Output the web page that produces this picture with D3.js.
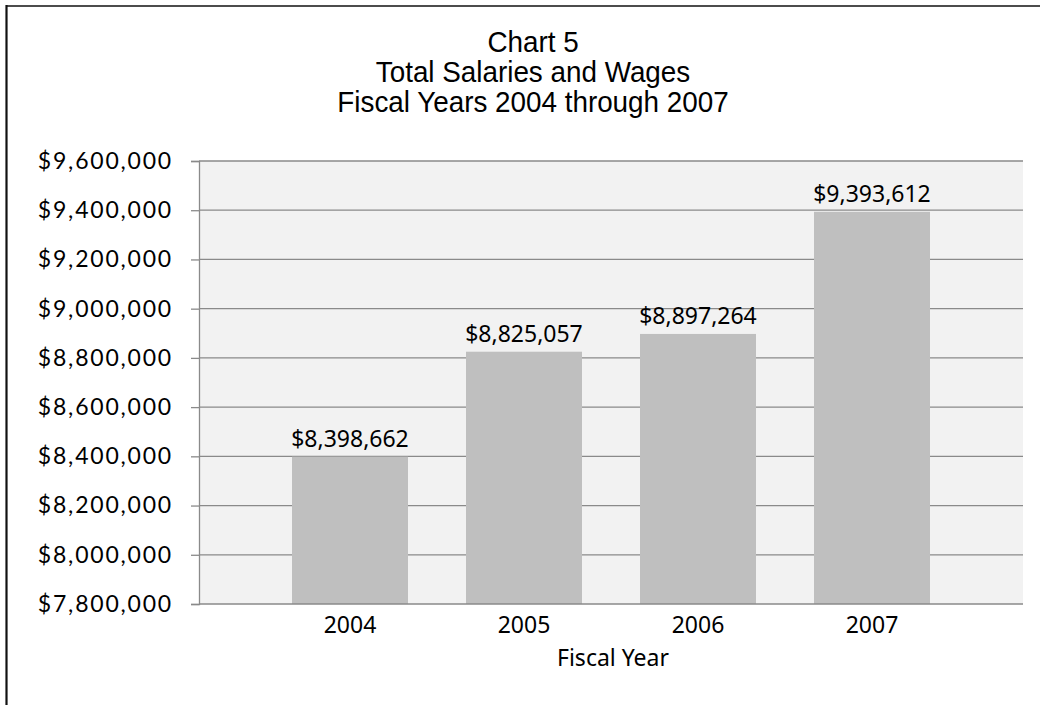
<!DOCTYPE html>
<html>
<head>
<meta charset="utf-8">
<script src="https://cdn.jsdelivr.net/npm/d3@7"></script>
<style>
  html, body { margin: 0; padding: 0; background: #fff; }
  svg { display: block; }
</style>
</head>
<body>
<svg id="chart" width="1040" height="705"></svg>
<script>
// Fiscal year totals for salaries and wages
const years = ["2004", "2005", "2006", "2007"];
const totals = [8398662, 8825057, 8897264, 9393612];
const yTicks = [7800000, 8000000, 8200000, 8400000, 8600000, 8800000, 9000000, 9200000, 9400000, 9600000];
const titleLines = ["Chart 5", "Total Salaries and Wages", "Fiscal Years 2004 through 2007"];
const xTitle = "Fiscal Year";

const svg = d3.select("#chart");
const W = 1040, H = 705;
const plot = { left: 199, right: 1023, top: 161, bottom: 604 };

// Frame edges (top and left)
svg.append("line").attr("x1", 6).attr("x2", W).attr("y1", 6).attr("y2", 6)
  .attr("stroke", "#111").attr("stroke-width", 1.5);
svg.append("line").attr("x1", 6.5).attr("x2", 6.5).attr("y1", 5).attr("y2", H)
  .attr("stroke", "#111").attr("stroke-width", 2.2);

// Title
const title = svg.append("g").attr("transform", "translate(533,0) scale(0.96,1)");
title.selectAll("text").data(titleLines).join("text")
  .attr("x", 0)
  .attr("y", (d, i) => 52 + i * 30)
  .attr("text-anchor", "middle")
  .attr("font-family", "'Liberation Sans', Arial, sans-serif")
  .attr("font-size", 29)
  .attr("fill", "#000")
  .text(d => d);

const y = d3.scaleLinear().domain([7800000, 9600000]).range([plot.bottom, plot.top]);
const x = d3.scaleBand().domain(years)
  .range([plot.left + 64, plot.right - 64])
  .paddingInner(58 / 174).paddingOuter(29 / 174);

// Plot background
svg.append("rect")
  .attr("x", plot.left).attr("y", plot.top)
  .attr("width", plot.right - plot.left).attr("height", plot.bottom - plot.top)
  .attr("fill", "#f2f2f2");

// Gridlines
svg.append("g").selectAll("line").data(yTicks.slice(1)).join("line")
  .attr("x1", plot.left).attr("x2", plot.right)
  .attr("y1", d => y(d)).attr("y2", d => y(d))
  .attr("stroke", "#8a8a8a").attr("stroke-width", 1.3);

// Bars
svg.append("g").selectAll("rect").data(totals).join("rect")
  .attr("x", (d, i) => x(years[i]))
  .attr("width", x.bandwidth())
  .attr("y", d => y(d))
  .attr("height", d => y(7800000) - y(d))
  .attr("fill", "#bfbfbf");

// Value labels
const fmt = d3.format("$,");
svg.append("g").selectAll("text").data(totals).join("text")
  .attr("x", (d, i) => x(years[i]) + x.bandwidth() / 2)
  .attr("y", d => y(d) - 10)
  .attr("text-anchor", "middle")
  .attr("font-family", "'Noto Sans', 'Open Sans', sans-serif")
  .attr("font-size", 23)
  .attr("fill", "#000")
  .text(d => fmt(d));

// Y axis
const yAxis = d3.axisLeft(y).tickValues(yTicks).tickSize(8).tickPadding(18)
  .tickFormat(d => fmt(d));
const gy = svg.append("g").attr("transform", `translate(${plot.left},0)`).call(yAxis);
gy.select(".domain").attr("stroke", "#8a8a8a").attr("stroke-width", 1.3);
gy.selectAll(".tick line").attr("stroke", "#8a8a8a").attr("stroke-width", 1.3);
gy.selectAll(".tick text")
  .attr("font-family", "Lato, sans-serif").attr("font-size", 23)
  .attr("letter-spacing", 1.8).attr("fill", "#000");

// X axis
const xAxis = d3.axisBottom(x).tickSize(0).tickPadding(13);
const gx = svg.append("g").attr("transform", `translate(0,${plot.bottom})`).call(xAxis);
gx.select(".domain").remove();
gx.selectAll(".tick text")
  .attr("font-family", "'Noto Sans', 'Open Sans', sans-serif").attr("font-size", 23).attr("fill", "#000");
svg.append("line")
  .attr("x1", plot.left).attr("x2", plot.right)
  .attr("y1", plot.bottom).attr("y2", plot.bottom)
  .attr("stroke", "#8a8a8a").attr("stroke-width", 1.3);

// X axis title
svg.append("text")
  .attr("x", (plot.left + plot.right) / 2 + 2).attr("y", 666)
  .attr("text-anchor", "middle")
  .attr("font-family", "'Noto Sans', 'Open Sans', sans-serif")
  .attr("font-size", 23).attr("fill", "#000")
  .text(xTitle);
</script>
</body>
</html>
